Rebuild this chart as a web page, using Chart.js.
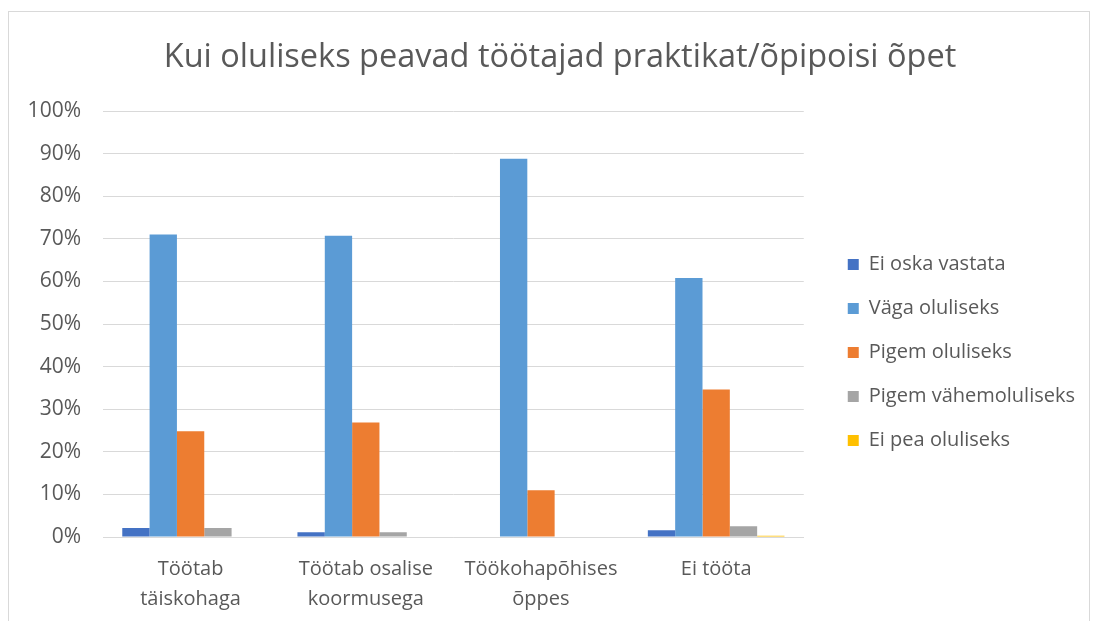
<!DOCTYPE html>
<html>
<head>
<meta charset="utf-8">
<script src="https://cdn.jsdelivr.net/npm/chart.js@4"></script>
<style>
  body { margin: 0; background: #fff; }
  #frame {
    position: absolute; left: 8px; top: 11px; width: 1082px; height: 620px;
    border: 1px solid #d9d9d9; box-sizing: border-box;
  }
  #box { position: absolute; left: 9px; top: 12px; width: 1080px; height: 618px; }
</style>
</head>
<body>
<div id="frame"></div>
<div id="box"><canvas id="chart"></canvas></div>
<script>
const categories = [
    ['Töötab', 'täiskohaga'],
    ['Töötab osalise', 'koormusega'],
    ['Töökohapõhises', 'õppes'],
    ['Ei tööta']
];
const seriesNames = ['Ei oska vastata', 'Väga oluliseks', 'Pigem oluliseks', 'Pigem vähemoluliseks', 'Ei pea oluliseks'];
const seriesColors = ['#4472C4', '#5B9BD5', '#ED7D31', '#A5A5A5', '#FFC000'];

// väärtused protsentides, loetud pildilt
const eiOska = [2.1, 1.1, 0, 1.6];
const vagaOluline = [71.0, 70.7, 88.8, 60.8];
const pigemOluline = [24.8, 26.9, 11.0, 34.6];
const pigemVahem = [2.1, 1.1, 0, 2.5];
const eiPea = [0, 0, 0, 0.3];

const yTicks = [0, 10, 20, 30, 40, 50, 60, 70, 80, 90, 100];

const allSeries = [eiOska, vagaOluline, pigemOluline, pigemVahem, eiPea];
const fontFamily = "'Open Sans', 'Noto Sans', sans-serif";
const LEGEND_GAP = 20;
const LEGEND_DROP = 22;
const TITLE_SHIFT = 13;

// lisab legendile vasakule tühja ruumi, et joonis lõppeks varem
const legendGap = {
    id: 'legendGap',
    beforeLayout(chart) {
        const lg = chart.legend;
        if (lg && !lg._gapPatched) {
            const fit = lg.fit.bind(lg);
            lg.fit = function () { fit(); this.width += LEGEND_GAP; };
            lg._gapPatched = true;
        }
    },
    afterLayout(chart) {
        const lg = chart.legend;
        lg.left += LEGEND_GAP;
        lg.right += LEGEND_GAP;
        lg.top += LEGEND_DROP;
        lg.bottom += LEGEND_DROP;
        const t = chart.titleBlock;
        if (t) { t.left += TITLE_SHIFT; t.right += TITLE_SHIFT; }
    }
};

new Chart(document.getElementById('chart'), {
    type: 'bar',
    data: {
        labels: categories,
        datasets: allSeries.map((d, i) => ({
            label: seriesNames[i],
            data: d,
            backgroundColor: seriesColors[i],
            borderWidth: 0,
            barPercentage: 1,
            categoryPercentage: 0.78
        }))
    },
    options: {
        responsive: true,
        maintainAspectRatio: false,
        animation: false,
        layout: { padding: { left: 0, right: 4, top: 26, bottom: 7 } },
        scales: {
            x: {
                grid: { display: false },
                border: { color: '#d9d9d9', width: 1 },
                ticks: {
                    color: '#595959',
                    font: { family: fontFamily, size: 20, lineHeight: 1.5 },
                    padding: 9,
                    maxRotation: 0
                }
            },
            y: {
                min: 0,
                max: 100,
                afterBuildTicks: (axis) => { axis.ticks = yTicks.map(v => ({ value: v })); },
                afterFit: (axis) => { axis.width = 94; },
                grid: { color: '#d9d9d9', drawTicks: false },
                border: { display: false },
                ticks: {
                    color: '#595959',
                    font: { family: fontFamily, size: 21 },
                    padding: 22,
                    callback: (v) => v + '%'
                }
            }
        },
        plugins: {
            title: {
                display: true,
                text: 'Kui oluliseks peavad töötajad praktikat/õpipoisi õpet',
                color: '#595959',
                font: { family: fontFamily, size: 32.5, weight: 'normal' },
                padding: { top: 0, bottom: 34 }
            },
            legend: {
                position: 'right',
                labels: {
                    boxWidth: 11,
                    boxHeight: 11,
                    padding: 24,
                    color: '#595959',
                    font: { family: fontFamily, size: 20 }
                }
            },
            tooltip: { enabled: false }
        }
    },
    plugins: [legendGap]
});
</script>
</body>
</html>
